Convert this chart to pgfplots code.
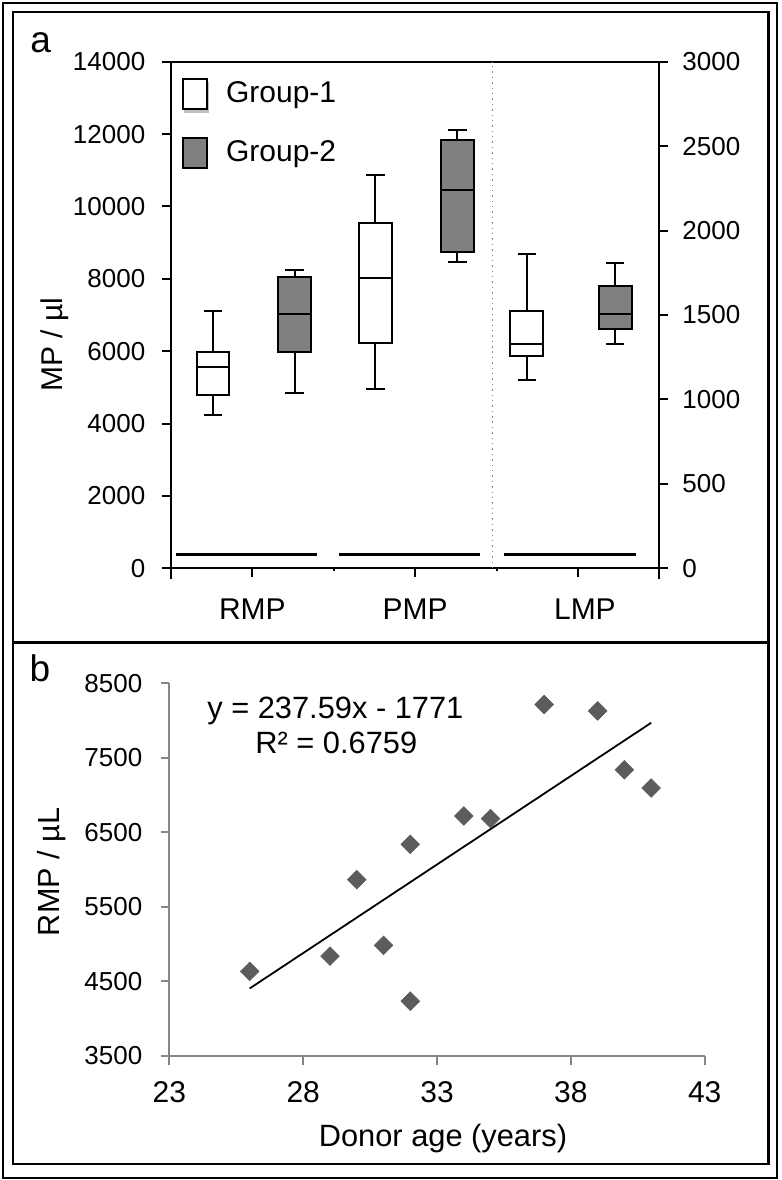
\documentclass[border=0pt]{standalone}
\usepackage{fontspec}
\setmainfont{Liberation Sans}
\usepackage{pgfplots}
\pgfplotsset{compat=1.18}
\definecolor{boxgray}{RGB}{128,128,128}
\definecolor{ptgray}{RGB}{92,92,92}
\definecolor{axgray}{RGB}{134,134,134}
\pgfplotsset{ln/.style={black, line width=1bp, line cap=rect},
  bw/.style={draw=black, fill=white, line width=1bp},
  bg/.style={draw=black, fill=boxgray, line width=1bp}}
\newcommand{\fz}[1]{\fontsize{#1}{#1}\selectfont}
\begin{document}
\begin{tikzpicture}
\useasboundingbox (0bp,0bp) rectangle (391bp,590bp);
\draw[line width=1bp] (1.65bp,1.25bp) rectangle (388.5bp,588.25bp);
\draw[line width=1.2bp] (6.4bp,8bp) rectangle (384.15bp,583.85bp);
\draw[line width=1.2bp] (6.4bp,268.65bp) -- (384.15bp,268.65bp);
\node[anchor=base west, inner sep=0pt, font=\fz{18.5bp}] at (15bp,563.5bp) {a};
\node[anchor=base west, inner sep=0pt, font=\fz{18.5bp}] at (14.65bp,249.15bp) {b};

% ---------------- panel a, left axis ----------------
\begin{axis}[
  at={(85.5bp,305.85bp)}, anchor=south west, scale only axis,
  width=244.15bp, height=253.3bp,
  xmin=-0.5, xmax=2.5, ymin=0, ymax=14000,
  xtick={0,1,2}, xticklabels={RMP,PMP,\hspace*{7bp}LMP},
  extra x ticks={-0.5,2.5}, extra x tick labels={},
  extra x tick style={major tick length=5.5bp},
  minor xtick={0.5,1.5}, minor tick length=1.5bp,
  major tick length=4.5bp,
  ytick={0,2000,...,14000}, scaled y ticks=false,
  xtick pos=left, ytick pos=left, tick align=outside,
  axis line style={line width=1bp},
  tick style={line width=1bp, black},
  /pgf/number format/assume math mode=true,
  /pgf/number format/1000 sep={},
  yticklabel style={font=\fz{13bp}, inner sep=0pt, xshift=-8.15bp},
  xticklabel style={font=\fz{15bp}, inner sep=0pt, yshift=-10.75bp},
  ylabel={MP / µl},
  ylabel style={font=\fz{15bp}, inner sep=0pt, at={(axis description cs:-0.2232,0.4408)}, anchor=base},
  legend style={at={(axis description cs:0.0219,0.9694)}, anchor=north west,
     draw=none, fill=none, inner sep=0pt, row sep=12.25bp, column sep=1.5bp,
     font=\fz{15bp}},
  legend cell align=left,
]
\addlegendimage{legend image code/.code={\fill[black!25] (0.8bp,-9.2bp) rectangle (12.8bp,5.8bp);
   \draw[draw=black, fill=white, line width=1bp] (0bp,-7.5bp) rectangle (12bp,7.5bp);
   \path[draw=none] (12bp,0bp) -- (18bp,0bp);}}
\addlegendentry{Group-1}
\addlegendimage{legend image code/.code={\draw[draw=black, fill=boxgray, line width=1bp]
   (0bp,-7.5bp) rectangle (12bp,7.5bp); \path[draw=none] (12bp,0bp) -- (18bp,0bp);}}
\addlegendentry{Group-2}

% RMP group 1: x=-0.242, LW 4241, Q1 4795, M 5555, Q3 5991, UW 7118
\addplot[bw] coordinates {(-0.342,4795) (-0.142,4795) (-0.142,5991) (-0.342,5991)} --cycle;
\addplot[ln] coordinates {(-0.342,5555) (-0.142,5555)};
\addplot[ln] coordinates {(-0.242,4795) (-0.242,4241)};
\addplot[ln] coordinates {(-0.292,4241) (-0.192,4241)};
\addplot[ln] coordinates {(-0.242,5991) (-0.242,7118)};
\addplot[ln] coordinates {(-0.292,7118) (-0.192,7118)};
% RMP group 2: x=0.259, LW 4841, Q1 5964, M 7035, Q3 8039, UW 8232
\addplot[bg] coordinates {(0.159,5964) (0.359,5964) (0.359,8039) (0.159,8039)} --cycle;
\addplot[ln] coordinates {(0.159,7035) (0.359,7035)};
\addplot[ln] coordinates {(0.259,5964) (0.259,4841)};
\addplot[ln] coordinates {(0.209,4841) (0.309,4841)};
\addplot[ln] coordinates {(0.259,8039) (0.259,8232)};
\addplot[ln] coordinates {(0.209,8232) (0.309,8232)};
% PMP group 1: x=0.756, LW 4951, Q1 6224, M 8011, Q3 9544, UW 10880
\addplot[bw] coordinates {(0.656,6224) (0.856,6224) (0.856,9544) (0.656,9544)} --cycle;
\addplot[ln] coordinates {(0.656,8011) (0.856,8011)};
\addplot[ln] coordinates {(0.756,6224) (0.756,4951)};
\addplot[ln] coordinates {(0.706,4951) (0.806,4951)};
\addplot[ln] coordinates {(0.756,9544) (0.756,10880)};
\addplot[ln] coordinates {(0.706,10880) (0.806,10880)};
% PMP group 2: x=1.260, LW 8473, Q1 8741, M 10465, Q3 11828, UW 12124
\addplot[bg] coordinates {(1.160,8741) (1.360,8741) (1.360,11828) (1.160,11828)} --cycle;
\addplot[ln] coordinates {(1.160,10465) (1.360,10465)};
\addplot[ln] coordinates {(1.260,8741) (1.260,8473)};
\addplot[ln] coordinates {(1.210,8473) (1.310,8473)};
\addplot[ln] coordinates {(1.260,11828) (1.260,12124)};
\addplot[ln] coordinates {(1.210,12124) (1.310,12124)};
% baseline segments
\addplot[black, line width=1.2bp] coordinates {(-0.467,380) (0.3945,380)};
\addplot[black, line width=1.2bp] coordinates {(0.535,380) (1.396,380)};
% dotted separator
\addplot[axgray, dotted, line width=0.7bp] coordinates {(1.474,0) (1.474,14000)};
\end{axis}

% ---------------- panel a, right axis (LMP) ----------------
\begin{axis}[
  at={(85.5bp,305.85bp)}, anchor=south west, scale only axis,
  width=244.15bp, height=253.3bp,
  xmin=-0.5, xmax=2.5, ymin=0, ymax=3000,
  axis x line=none, axis y line*=right,
  ytick={0,500,...,3000}, scaled y ticks=false,
  tick align=outside, major tick length=4.5bp,
  axis line style={-, line width=1bp},
  tick style={line width=1bp, black},
  /pgf/number format/assume math mode=true,
  /pgf/number format/1000 sep={},
  yticklabel style={font=\fz{13bp}, inner sep=0pt, xshift=6.85bp},
]
% LMP group 1: x=1.685, LW 1115, Q1 1255, M 1327, Q3 1525, UW 1859
\addplot[bw] coordinates {(1.585,1255) (1.785,1255) (1.785,1525) (1.585,1525)} --cycle;
\addplot[ln] coordinates {(1.585,1327) (1.785,1327)};
\addplot[ln] coordinates {(1.685,1255) (1.685,1115)};
\addplot[ln] coordinates {(1.635,1115) (1.735,1115)};
\addplot[ln] coordinates {(1.685,1525) (1.685,1859)};
\addplot[ln] coordinates {(1.635,1859) (1.735,1859)};
% LMP group 2: x=2.230, LW 1330, Q1 1415, M 1506, Q3 1672, UW 1806
\addplot[bg] coordinates {(2.130,1415) (2.330,1415) (2.330,1672) (2.130,1672)} --cycle;
\addplot[ln] coordinates {(2.130,1506) (2.330,1506)};
\addplot[ln] coordinates {(2.230,1415) (2.230,1330)};
\addplot[ln] coordinates {(2.180,1330) (2.280,1330)};
\addplot[ln] coordinates {(2.230,1672) (2.230,1806)};
\addplot[ln] coordinates {(2.180,1806) (2.280,1806)};
\addplot[black, line width=1.2bp] coordinates {(1.543,81) (2.358,81)};
\end{axis}

% ---------------- panel b ----------------
\begin{axis}[
  at={(84.7bp,62bp)}, anchor=south west, scale only axis,
  width=267.65bp, height=186.35bp,
  xmin=23, xmax=43, ymin=3500, ymax=8500,
  xtick={23,28,...,43}, ytick={3500,4500,...,8500},
  axis lines=left, axis line style={-, axgray, line width=1bp},
  tick style={axgray, line width=1bp}, tick align=outside, major tick length=4.25bp,
  /pgf/number format/assume math mode=true,
  /pgf/number format/1000 sep={},
  yticklabel style={font=\fz{13bp}, inner sep=0pt, xshift=-9.1bp},
  xticklabel style={font=\fz{15bp}, inner sep=0pt, yshift=-8.35bp},
  xlabel={Donor age (years)},
  xlabel style={font=\fz{15.4bp}, inner sep=0pt, at={(axis description cs:0.5111,-0.2415)}, anchor=base},
  ylabel={RMP / µL},
  ylabel style={font=\fz{15.3bp}, inner sep=0pt, at={(axis description cs:-0.2044,0.4937)}, anchor=base},
  clip=false,
]
\addplot[only marks, mark=square*, mark size=3.3bp,
  mark options={rotate=45, fill=ptgray, draw=ptgray, line width=0.3bp}] coordinates {
  (26,4635) (29,4840) (30,5865) (31,4985) (32,6340) (32,4235)
  (34,6720) (35,6685) (37,8215) (39,8130) (40,7340) (41,7095)};
\addplot[black, line width=0.9bp] coordinates {(26,4406.3) (41,7970.2)};
\node[anchor=base west, inner sep=0pt, font=\fz{15.4bp}] at (axis description cs:0.0702,0.9069) {y = 237.59x - 1771};
\node[anchor=base west, inner sep=0pt, font=\fz{15.4bp}] at (axis description cs:0.1599,0.8130) {R² = 0.6759};
\end{axis}
\end{tikzpicture}
\end{document}
